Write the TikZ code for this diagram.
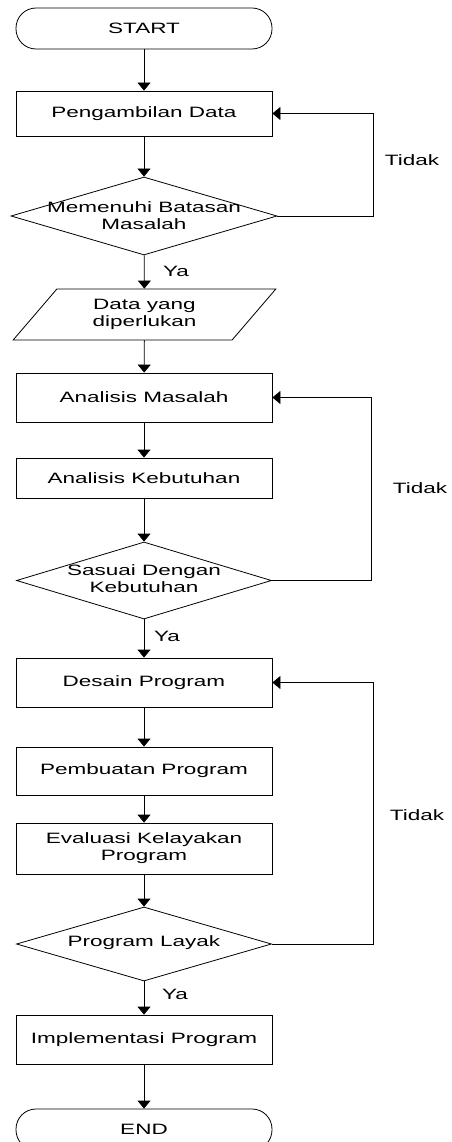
\documentclass[tikz,border=0pt]{standalone}
\usepackage{fontspec}
\setmainfont{Liberation Sans}[FakeStretch=1.5]
\usetikzlibrary{arrows.meta,positioning,shapes.geometric}

\begin{document}
\begin{tikzpicture}[x=1pt,y=-1pt,
    font=\fontsize{15}{17}\selectfont,
    every node/.style={align=center, inner sep=0pt},
    box/.style={draw, line width=0.8pt, minimum width=256pt},
    term/.style={draw, line width=0.8pt, minimum width=256pt, minimum height=41pt, rounded corners=20pt},
    decision/.style={draw, line width=0.8pt, diamond, inner sep=1pt},
    io/.style={draw, line width=0.8pt, trapezium, trapezium left angle=52, trapezium right angle=128,
               trapezium stretches, inner sep=2pt, minimum width=263pt, minimum height=51pt},
    arr/.style={line width=0.8pt, -{Triangle[length=8pt,width=13pt]}}]
    \useasboundingbox (0,0) rectangle (451,1142);
    % main column of the flow
    \node[term] (start) at (144,28.5) {START};
    \node[box, minimum height=45pt] (ambil) at (144,113.5) {Pengambilan Data};
    \node[decision, minimum width=266pt, minimum height=78pt] (batas) at (144,216) {};
    \node at (144,215.5) (batastxt) {Memenuhi Batasan\\Masalah};
    \node[io] (data) at (144.5,314.5) {Data yang\\diperlukan};
    \node[box, minimum height=49pt] (masalah) at (144,397.5) {Analisis Masalah};
    \node[box, minimum height=40pt] (butuh) at (144,478) {Analisis Kebutuhan};
    \node[decision, minimum width=255pt, minimum height=77pt] (sesuai) at (144,580.5) {};
    \node at (144,579) (sesuaitxt) {Sasuai Dengan\\Kebutuhan};
    \node[box, minimum height=49pt] (desain) at (144,682.5) {Desain Program};
    \node[box, minimum height=48pt] (buat) at (144,771) {Pembuatan Program};
    \node[box, minimum height=51pt] (eval) at (144,848.5) {Evaluasi Kelayakan\\Program};
    \node[decision, minimum width=255pt, minimum height=74pt] (layak) at (144,944) {};
    \node at (144,943) (layaktxt) {Program Layak};
    \node[box, minimum height=49pt] (impl) at (144,1039.5) {Implementasi Program};
    \node[term] (end) at (144,1129.5) {END};
    % downward connectors
    \foreach \a/\b in {start/ambil, ambil/batas, batas/data, data/masalah, masalah/butuh,
                       butuh/sesuai, sesuai/desain, desain/buat, buat/eval, eval/layak,
                       layak/impl, impl/end}
      \draw[arr] (\a) -- (\b);
    % loops back on "Tidak"
    \draw[arr] (batas.east) -- ++(96,0) |- (ambil.east);
    \draw[arr] (sesuai.east) -- ++(99,0) |- (masalah.east);
    \draw[arr] (layak.east) -- ++(101,0) |- (desain.east);
    % answer labels
    \node (tidak1) at (412,160) {Tidak};
    \node (tidak2) at (420,488) {Tidak};
    \node (tidak3) at (417,815) {Tidak};
    \node (ya1) at (176,271) {Ya};
    \node (ya2) at (167,636) {Ya};
    \node (ya3) at (175,994) {Ya};
\end{tikzpicture}
\end{document}
